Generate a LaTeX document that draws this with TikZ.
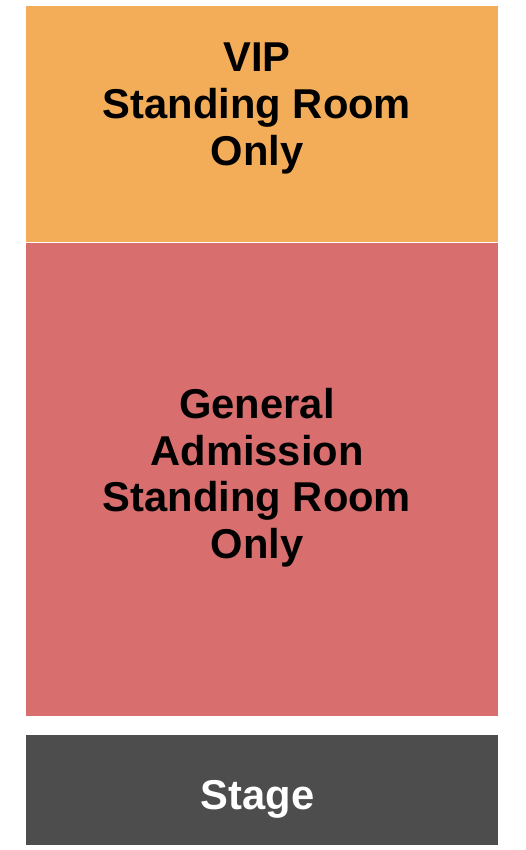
\documentclass[tikz,border=0pt]{standalone}
\usepackage{fontspec}
\setmainfont{Liberation Sans}
\definecolor{vipc}{HTML}{F3AD59}
\definecolor{gac}{HTML}{D86F6E}
\definecolor{stagec}{HTML}{4D4D4D}
\begin{document}
\begin{tikzpicture}[x=1pt,y=-1pt,
  lbl/.style={anchor=base,inner sep=0pt,font=\fontsize{41.7}{47}\selectfont\bfseries,text=black},
  slbl/.style={lbl,text=white}]
\useasboundingbox (0,0) rectangle (525,850);
\fill[white] (0,0) rectangle (525,850);
\fill[vipc] (26,6) rectangle (498,241.5);
\fill[gac] (26,242.5) rectangle (498,716);
\fill[stagec] (26,735) rectangle (498,845);
\node[lbl] (v1) at (257,71.5) {VIP};
\node[lbl] (v2) at (257,118.5) {Standing Room};
\node[lbl] (v3) at (257,165.5) {Only};
\node[lbl] (g1) at (257,418.5) {General};
\node[lbl] (g2) at (257,465) {Admission};
\node[lbl] (g3) at (257,511.5) {Standing Room};
\node[lbl] (g4) at (257,558) {Only};
\node[slbl] (s1) at (257.5,809) {Stage};
\end{tikzpicture}
\end{document}
